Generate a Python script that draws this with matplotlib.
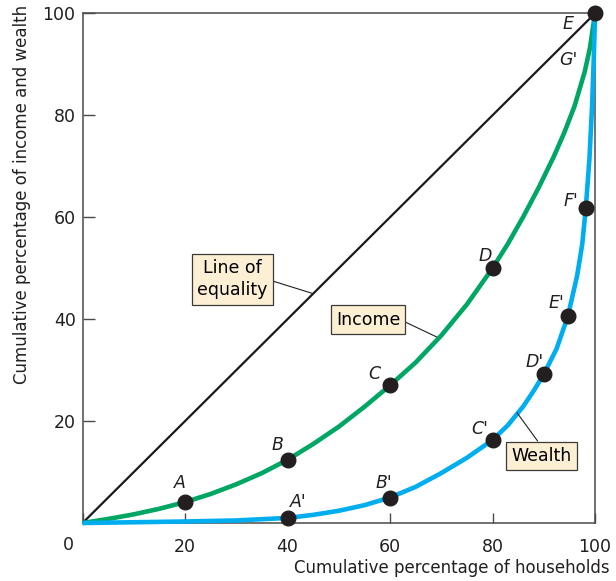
import numpy as np
import matplotlib.pyplot as plt

# Lorenz curves (cumulative % of households -> cumulative %)
equality_x = [0, 100]
equality_y = [0, 100]

income_x = [0, 5, 10, 15, 20, 25, 30, 35, 40, 45, 50, 55, 60, 65, 70, 75, 80, 83, 86, 89,
            92, 94, 96, 98, 99, 100]
income_y = [0, 0.8, 1.7, 2.8, 4.1, 5.7, 7.6, 9.8, 12.4, 15.5, 18.9, 22.8, 27, 31.5, 36.8,
            42.9, 50, 54.8, 60.1, 65.8, 72.0, 76.6, 81.8, 88.6, 93.2, 100]

wealth_x = [0, 20, 30, 40, 45, 50, 55, 60, 65, 70, 75, 80, 83, 86, 88, 90, 92.5, 94.7,
            96.5, 97.5, 98.2, 98.9, 99.4, 99.75, 100]
wealth_y = [0, 0.3, 0.5, 1.0, 1.6, 2.4, 3.5, 5.0, 7.1, 9.8, 12.8, 16.3, 19.2, 22.9, 25.9, 29.2,
            34.2, 40.6, 48.5, 54.7, 61.9, 71.4, 81.4, 91.2, 100]

income_pts_x = [20, 40, 60, 80, 100]
income_pts_y = [4.1, 12.4, 27, 50, 100]
income_pts_lab = ["A", "B", "C", "D", "E"]

wealth_pts_x = [40, 60, 80, 90, 94.7, 98.2]
wealth_pts_y = [1.0, 5.0, 16.3, 29.2, 40.6, 61.9]
wealth_pts_lab = ["A'", "B'", "C'", "D'", "E'", "F'"]

xticks = [0, 20, 40, 60, 80, 100]
yticks = [20, 40, 60, 80, 100]

GREEN = "#00a664"
BLUE = "#00aeef"
DOT = "#231f20"
BOX = "#fdefd3"
AXC = "#4a4a4a"

fig = plt.figure(figsize=(6.16, 5.81), dpi=100)
ax = fig.add_axes([0.134, 0.0998, 0.832, 0.8773])
ax.set_xlim(0, 100)
ax.set_ylim(0, 100)

ax.plot(equality_x, equality_y, color="#1a1a1a", lw=1.6, zorder=3)
ax.plot(income_x, income_y, color=GREEN, lw=3.3, zorder=4, clip_on=False,
        solid_capstyle="butt", solid_joinstyle="round")
ax.plot(wealth_x, wealth_y, color=BLUE, lw=3.3, zorder=4, clip_on=False,
        solid_capstyle="butt", solid_joinstyle="round")

ax.plot(income_pts_x, income_pts_y, "o", color=DOT, ms=10.5, zorder=6, clip_on=False)
ax.plot(wealth_pts_x, wealth_pts_y, "o", color=DOT, ms=10.5, zorder=6, clip_on=False)

# point labels, offsets in pixels from the dot
inc_off = [(-5, 19), (-10, 15), (-16, 11), (-7, 12), (-27, -11)]
wea_off = [(11, 16), (-6, 15), (-13, 11), (-9, 12), (-11, 13), (-15, 7)]
for x, y, s, o in zip(income_pts_x, income_pts_y, income_pts_lab, inc_off):
    ax.annotate(s, (x, y), xytext=o, textcoords="offset pixels", ha="center",
                va="center", fontsize=12.5, style="italic", color="#231f20", zorder=7)
for x, y, s, o in zip(wealth_pts_x, wealth_pts_y, wealth_pts_lab, wea_off):
    ax.annotate(s, (x, y), xytext=o, textcoords="offset pixels", ha="center",
                va="center", fontsize=12.5, style="italic", color="#231f20", zorder=7)
# G' sits at the top corner too
ax.annotate("G'", (100, 100), xytext=(-27, -47), textcoords="offset pixels",
            ha="center", va="center", fontsize=12.5, style="italic", color="#231f20")

# boxed curve labels
bbox = dict(boxstyle="square,pad=0.3", fc=BOX, ec="#3a3a3a", lw=0.9)
ax.annotate("Line of\nequality", xy=(45, 45), xytext=(29.2, 47.8),
            ha="center", va="center", fontsize=12.5, linespacing=1.3, bbox=bbox,
            arrowprops=dict(arrowstyle="-", color="#231f20", lw=0.8,
                            relpos=(1, 0.5), shrinkA=0, shrinkB=0), zorder=8)
ax.annotate("Income", xy=(69.1, 36.5), xytext=(55.7, 39.9),
            ha="center", va="center", fontsize=12.5, bbox=bbox,
            arrowprops=dict(arrowstyle="-", color="#231f20", lw=0.8,
                            relpos=(1, 0.5), shrinkA=0, shrinkB=0), zorder=8)
ax.annotate("Wealth", xy=(84.8, 21.6), xytext=(89.6, 13.2),
            ha="center", va="center", fontsize=12.5, bbox=bbox,
            arrowprops=dict(arrowstyle="-", color="#231f20", lw=0.8,
                            relpos=(0.5, 1), shrinkA=0, shrinkB=0), zorder=8)

for sp in ax.spines.values():
    sp.set_color(AXC)
    sp.set_linewidth(1.1)

ax.set_xticks(xticks)
ax.set_xticklabels(["", "20", "40", "60", "80", "100"])
ax.set_yticks(yticks)
ax.tick_params(axis="x", direction="in", length=7, width=1, color=AXC,
               pad=11, labelsize=12.5, labelcolor="#231f20")
ax.tick_params(axis="y", direction="in", length=8.5, width=1, color=AXC,
               pad=5, labelsize=12.5, labelcolor="#231f20")
ax.annotate("0", (0, 0), xytext=(-14, -22), textcoords="offset pixels",
            ha="center", va="center", fontsize=12.5, color="#231f20",
            annotation_clip=False)

ax.set_xlabel("Cumulative percentage of households", fontsize=12, color="#231f20",
              ha="right", va="center")
ax.xaxis.set_label_coords(1.029, -0.088)
ax.set_ylabel("Cumulative percentage of income and wealth", fontsize=12,
              color="#231f20", ha="center", va="top", rotation_mode="default")
ax.yaxis.set_label_coords(-0.118, 1.016)

fig.savefig("out.png", dpi=100)
